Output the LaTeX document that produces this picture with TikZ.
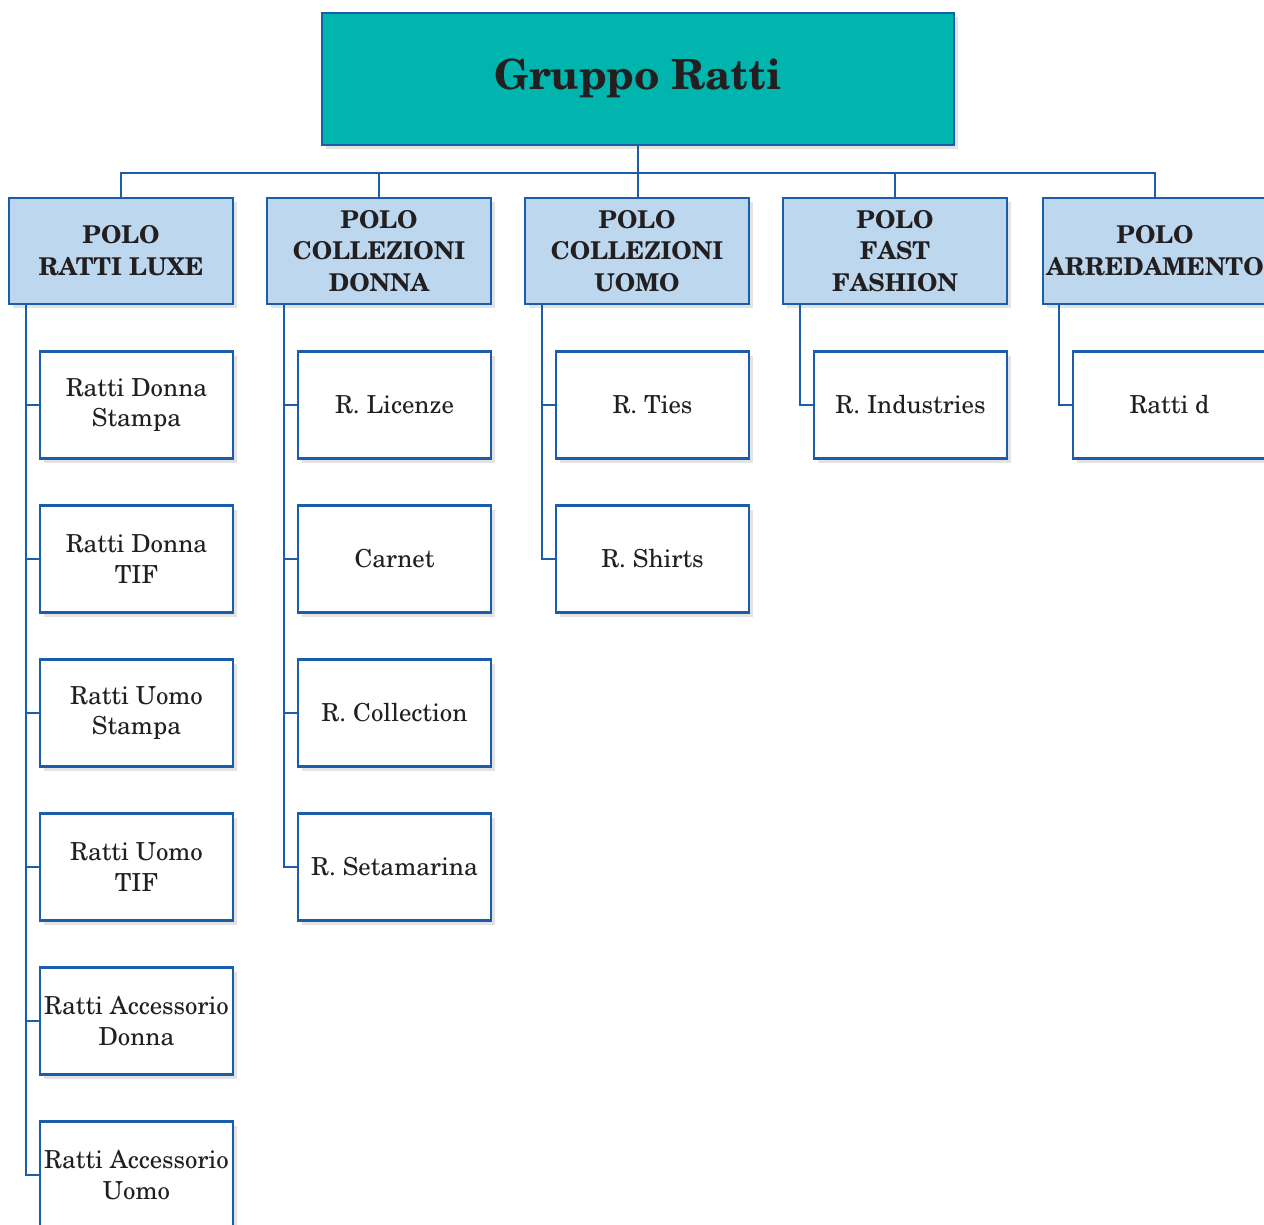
\documentclass[tikz,border=0pt]{standalone}
\usepackage[T1]{fontenc}
\usepackage{newcent}
\usetikzlibrary{shadows}
\definecolor{bordblue}{RGB}{26,93,170}
\definecolor{teal1}{RGB}{0,181,173}
\definecolor{hdrblue}{RGB}{189,215,238}
\definecolor{txt}{RGB}{35,31,32}
\tikzset{
  base/.style={draw=bordblue, line width=2.8pt, align=center, text=txt, inner sep=0pt,
    drop shadow={shadow xshift=4pt, shadow yshift=-4pt, opacity=0.18, fill=black!60}},
  topbox/.style={base, fill=teal1, minimum width=632pt, minimum height=132pt,
    font=\fontsize{41.5}{48}\selectfont\bfseries},
  hdr/.style={base, fill=hdrblue, minimum width=224pt, minimum height=106pt,
    font=\fontsize{24.5}{31.5}\selectfont\bfseries},
  child/.style={base, fill=white, minimum width=193pt, minimum height=107pt,
    font=\fontsize{24.8}{30.5}\selectfont},
  conn/.style={draw=bordblue, line width=2.6pt},
}
\begin{document}
\begin{tikzpicture}[x=1pt,y=1pt]
\useasboundingbox (0,0) rectangle (1264,-1225);
\clip (0,0) rectangle (1264,-1225);
\coordinate (busL) at (121,-173);
\node[topbox] (top) at (638,-79) {Gruppo Ratti};
\node[hdr] (h1) at (121,-251) {POLO\\RATTI LUXE};
\node[hdr] (h2) at (379,-251) {POLO\\COLLEZIONI\\DONNA};
\node[hdr] (h3) at (637,-251) {POLO\\COLLEZIONI\\UOMO};
\node[hdr] (h4) at (895,-251) {POLO\\FAST\\FASHION};
\node[hdr] (h5) at (1155,-251) {POLO\\ARREDAMENTO};
% children column 1
\node[child] (c11) at (136.5,-405) {Ratti Donna\\Stampa};
\node[child] (c12) at (136.5,-559) {Ratti Donna\\TIF};
\node[child] (c13) at (136.5,-713) {Ratti Uomo\\Stampa};
\node[child] (c14) at (136.5,-867) {Ratti Uomo\\TIF};
\node[child] (c15) at (136.5,-1021) {Ratti Accessorio\\Donna};
\node[child] (c16) at (136.5,-1175) {Ratti Accessorio\\Uomo};
% column 2
\node[child] (c21) at (394.5,-405) {R. Licenze};
\node[child] (c22) at (394.5,-559) {Carnet};
\node[child] (c23) at (394.5,-713) {R. Collection};
\node[child] (c24) at (394.5,-867) {R. Setamarina};
% column 3
\node[child] (c31) at (652.5,-405) {R. Ties};
\node[child] (c32) at (652.5,-559) {R. Shirts};
% column 4
\node[child] (c41) at (910.5,-405) {R. Industries};
% column 5
\node[child] (c51) at (1169.5,-405) {Ratti d};
% connectors top
\draw[conn] (top.south) -- (top.south |- h3.north);
\draw[conn] (h1.north) |- (h5.north |- busL) -- (h5.north);
\draw[conn] (h2.north) -- (h2.north |- busL);
\draw[conn] (h4.north) -- (h4.north |- busL);
% connectors to children
\foreach \h/\c/\x in {h1/c11/26, h1/c12/26, h1/c13/26, h1/c14/26, h1/c15/26, h1/c16/26,
  h2/c21/284, h2/c22/284, h2/c23/284, h2/c24/284,
  h3/c31/542, h3/c32/542, h4/c41/800, h5/c51/1059}{
  \draw[conn] (\h.south -| {(\x,0)}) |- (\c.west);
}
\end{tikzpicture}
\end{document}
